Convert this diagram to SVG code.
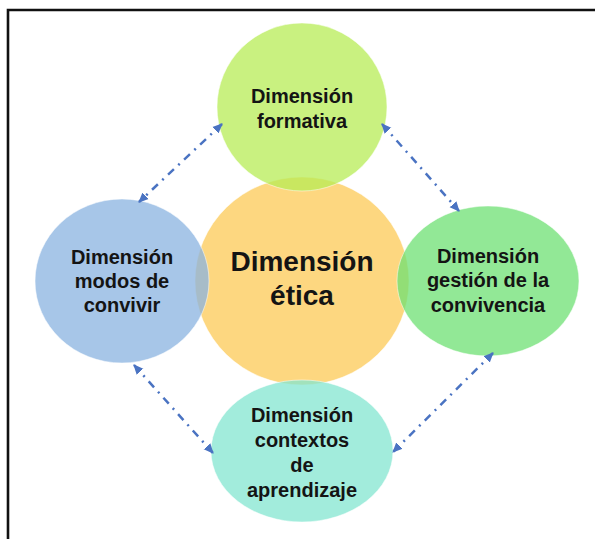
<svg xmlns="http://www.w3.org/2000/svg" width="595" height="539" viewBox="0 0 595 539">
<style>
.t{font-family:"Liberation Sans",Arial,"DejaVu Sans",sans-serif;font-weight:bold;font-size:20px;fill:#141414;text-anchor:middle}
.tc{font-size:28px}
.c{stroke:#ffffff;stroke-width:1;stroke-opacity:0.5}
.conn{fill:none;stroke:#4A73C2;stroke-width:2.5;stroke-dasharray:8 6 2 6}
</style>
<defs>
<marker id="ah" viewBox="0 0 10 10" refX="9" refY="5" markerWidth="10" markerHeight="10" markerUnits="userSpaceOnUse" orient="auto-start-reverse">
<path d="M0,0.5 L10,5 L0,9.5 z" fill="#4A73C2"/>
</marker>
</defs>
<rect width="595" height="539" fill="#ffffff"/>
<g id="frame">
<path d="M8,539 V10 H595" fill="none" stroke="#111" stroke-width="2.6"/>
</g>
<g id="center">
<ellipse class="c" cx="302" cy="281" rx="107" ry="104" fill="#FDD780"/>
<text class="t tc" x="302" y="271">Dimensión</text>
<text class="t tc" x="302" y="305">ética</text>
</g>
<g id="top">
<ellipse class="c" cx="302" cy="107" rx="85" ry="84" fill="#B7EC56" fill-opacity="0.75"/>
<text class="t" x="302" y="103">Dimensión</text>
<text class="t" x="302" y="128">formativa</text>
</g>
<g id="left">
<ellipse class="c" cx="122" cy="281" rx="87" ry="82" fill="#8AB3E0" fill-opacity="0.75"/>
<text class="t" x="122" y="264">Dimensión</text>
<text class="t" x="122" y="288">modos de</text>
<text class="t" x="122" y="312">convivir</text>
</g>
<g id="right">
<ellipse class="c" cx="488" cy="281" rx="91" ry="75" fill="#6EE073" fill-opacity="0.75"/>
<text class="t" x="488" y="263">Dimensión</text>
<text class="t" x="488" y="287">gestión de la</text>
<text class="t" x="488" y="312">convivencia</text>
</g>
<g id="bottom">
<ellipse class="c" cx="302" cy="451" rx="91" ry="71" fill="#83E6D0" fill-opacity="0.75"/>
<text class="t" x="302" y="422">Dimensión</text>
<text class="t" x="302" y="447">contextos</text>
<text class="t" x="302" y="472">de</text>
<text class="t" x="302" y="497">aprendizaje</text>
</g>
<g id="connectors">
<path class="conn" d="M222,124 L139,202" marker-start="url(#ah)" marker-end="url(#ah)"/>
<path class="conn" d="M382,124 L459,211" marker-start="url(#ah)" marker-end="url(#ah)"/>
<path class="conn" d="M134,365 L213,453" marker-start="url(#ah)" marker-end="url(#ah)"/>
<path class="conn" d="M493,353 L393,452" marker-start="url(#ah)" marker-end="url(#ah)"/>
</g>
</svg>
